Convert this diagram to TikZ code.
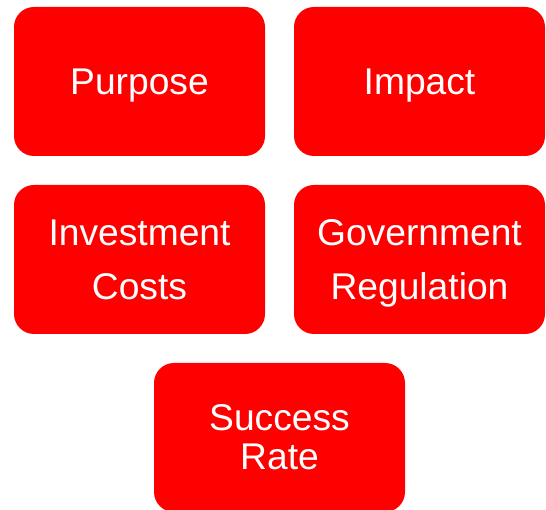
\documentclass[tikz,border=0pt]{standalone}
\usepackage{fontspec}
\setmainfont{Liberation Sans}
\usetikzlibrary{positioning}

\begin{document}
\begin{tikzpicture}[
    x=1pt, y=1pt,
    topic/.style={rectangle, rounded corners=20pt, fill=red, draw=none,
                  minimum width=251pt, minimum height=149pt, inner sep=0pt,
                  align=center, text=white, text depth=0pt,
                  font=\fontsize{37.2}{54}\selectfont}
]
\useasboundingbox (0, 0) rectangle (546, 510);

% Top row
\node[topic] (purpose) at (139.5, 428.5) {Purpose};
\node[topic] (impact) at (419.5, 428.5) {Impact};

% Middle row
\node[topic] (invest) at (139.5, 250.5) {Investment\\Costs};
\node[topic] (govreg) at (419.5, 250.5) {Government\\Regulation};

% Bottom
\node[topic, font=\fontsize{37.2}{39}\selectfont] (success) at (279.5, 72.5) {Success\\Rate};

\end{tikzpicture}
\end{document}
